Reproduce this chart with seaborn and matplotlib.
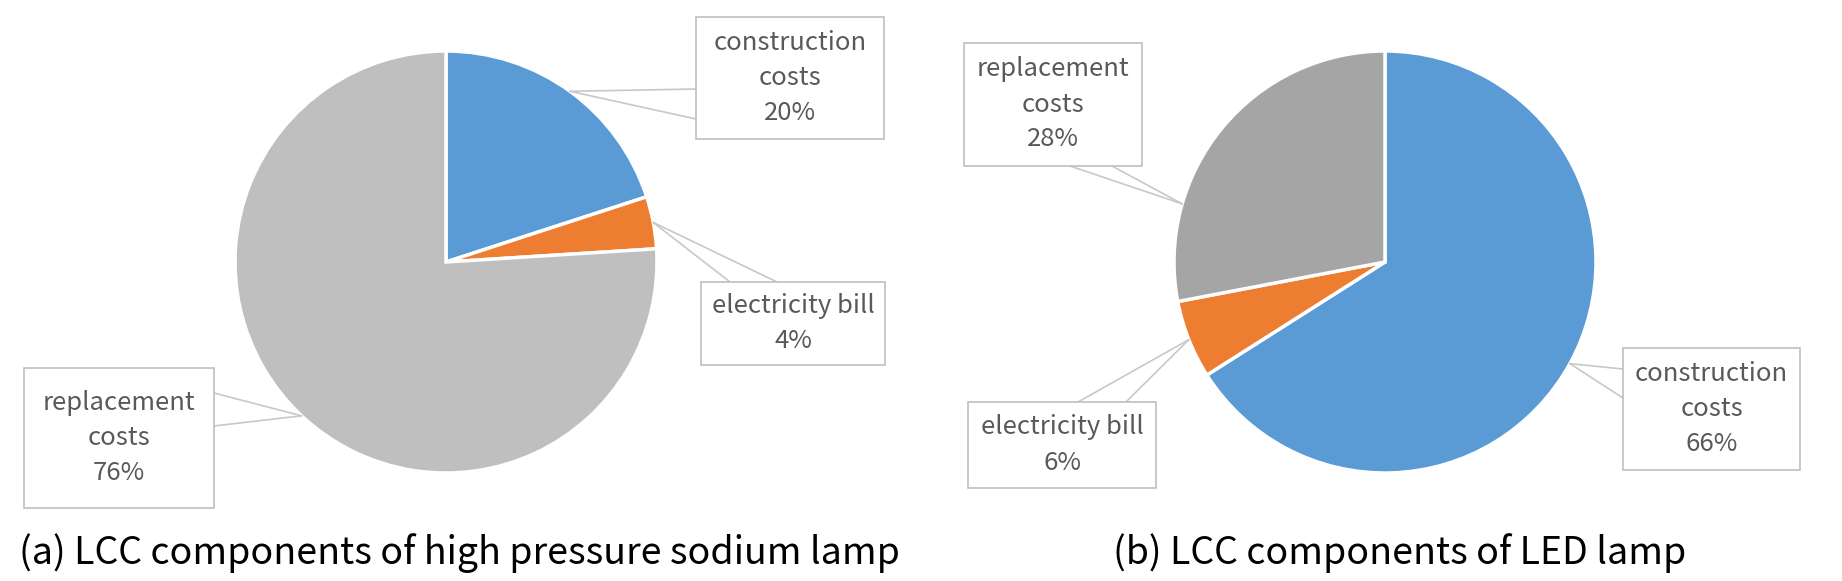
import numpy as np
import matplotlib
matplotlib.use("Agg")
import matplotlib.pyplot as plt
import seaborn as sns

sns.set_theme(style="white")
plt.rcParams['font.family'] = ['Noto Sans CJK KR', 'DejaVu Sans']

# data
categories = ['construction costs', 'electricity bill', 'replacement costs']
hps_share = [20, 4, 76]
led_share = [66, 6, 28]
titles = ['(a) LCC components of high pressure sodium lamp',
          '(b) LCC components of LED lamp']
label_text = {
    'construction costs': 'construction\ncosts',
    'electricity bill': 'electricity bill',
    'replacement costs': 'replacement\ncosts',
}

blue = '#5B9BD5'
orange = '#ED7D31'
colors_a = [blue, orange, '#BFBFBF']
colors_b = [blue, orange, '#A5A5A5']

W, H = 1842, 581
fig = plt.figure(figsize=(W / 100, H / 100), dpi=100)
ax = fig.add_axes([0, 0, 1, 1])

def fy(y):
    return H - y

# layout (image pixel coords): pie centre, radius, label boxes, leader feet
pies = [
    dict(values=hps_share, colors=colors_a, cx=446, cy=262, r=211, title_x=459,
         boxes=[(696, 17, 884, 139), (701, 282, 885, 365), (24, 368, 214, 508)],
         feet=[[(696, 89), (696, 119)], [(730, 282), (777, 282)], [(214, 393), (214, 426)]],
         anchor_override={}),
    dict(values=led_share, colors=colors_b, cx=1385, cy=262, r=211, title_x=1400,
         boxes=[(1623, 348, 1800, 470), (968, 402, 1156, 488), (964, 43, 1142, 166)],
         feet=[[(1623, 369), (1623, 398)], [(1078, 402), (1126, 402)], [(1070, 166), (1112, 166)]],
         anchor_override={2: 164}),
]

for p in pies:
    vals = np.array(p['values'], dtype=float)
    ax.pie(vals, colors=p['colors'], startangle=90, counterclock=False,
           center=(p['cx'], fy(p['cy'])), radius=p['r'],
           wedgeprops=dict(edgecolor='white', linewidth=2.5))
    # mid angle of each wedge (degrees, ccw from +x)
    ends = 90 - np.cumsum(vals) / vals.sum() * 360
    starts = ends + vals / vals.sum() * 360
    mids = (starts + ends) / 2
    for i, cat in enumerate(categories):
        ang = p['anchor_override'].get(i, mids[i])
        axx = p['cx'] + p['r'] * np.cos(np.radians(ang))
        axy = fy(p['cy']) + p['r'] * np.sin(np.radians(ang))
        for fx, fyy in p['feet'][i]:
            ax.plot([axx, fx], [axy, fy(fyy)], color='#C8C8C8', lw=1.2, zorder=3)
        x0, y0, x1, y1 = p['boxes'][i]
        ax.add_patch(plt.Rectangle((x0, fy(y1)), x1 - x0, y1 - y0, facecolor='white',
                                   edgecolor='#BFBFBF', lw=1.2, zorder=4))
        ax.text((x0 + x1) / 2, fy((y0 + y1) / 2), f"{label_text[cat]}\n{int(vals[i])}%",
                ha='center', va='center', fontsize=18.5, color='#595959',
                linespacing=1.45, zorder=5)

for p, t in zip(pies, titles):
    ax.text(p['title_x'], fy(553), t, ha='center', va='center', fontsize=27, color='black')

ax.set_xlim(0, W)
ax.set_ylim(0, H)
ax.set_aspect('equal')
ax.axis('off')

fig.savefig('out.png', dpi=100, facecolor='white')
